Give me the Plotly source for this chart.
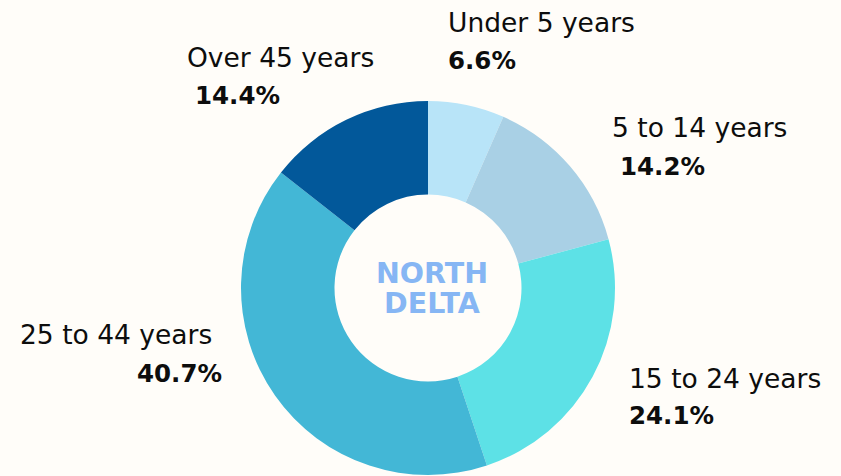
import plotly.graph_objects as go

categories = ["Under 5 years", "5 to 14 years", "15 to 24 years", "25 to 44 years", "Over 45 years"]
values = [6.6, 14.2, 24.1, 40.7, 14.4]
value_labels = ["6.6%", "14.2%", "24.1%", "40.7%", "14.4%"]
colors = ["#b8e4f8", "#a9d0e5", "#5de1e6", "#43b7d6", "#02589a"]
center_lines = ["NORTH", "DELTA"]

BG = "#fffdf9"
W, H = 841, 476
MT, MB = 101, 1
cx, cy, R = 428, 288, 187
PH = H - MT - MB

def px(x):
    return x / W

def py(y):
    return (H - MB - y) / PH

fig = go.Figure()
fig.add_trace(go.Pie(
    labels=categories,
    values=values,
    marker=dict(colors=colors, line=dict(width=0)),
    hole=0.5,
    sort=False,
    direction="clockwise",
    rotation=0,
    textinfo="none",
    hoverinfo="label+percent",
    showlegend=False,
    domain=dict(x=[(cx - R) / W, (cx + R) / W], y=[0, 1]),
))

FONT = "DejaVu Sans"
label_pos = [
    (448, 22, 448, 60, "left"),
    (612, 128, 620, 166, "left"),
    (629, 378, 629, 415, "left"),
    (20, 334, 222, 373, "right"),
    (187, 58, 195, 96, "left"),
]
annotations = []
for cat, val, (x1, y1, x2, y2, a2) in zip(categories, value_labels, label_pos):
    annotations.append(dict(x=px(x1), y=py(y1), xref="paper", yref="paper",
                            text=cat, showarrow=False, xanchor="left", yanchor="middle",
                            xshift=-2,
                            font=dict(family=FONT, size=26.5, color="#0d0d0d")))
    annotations.append(dict(x=px(x2), y=py(y2), xref="paper", yref="paper",
                            text="<b>" + val + "</b>", showarrow=False, xanchor=a2, yanchor="middle",
                            xshift=-2 if a2 == "left" else 2,
                            font=dict(family=FONT, size=24.5, color="#0d0d0d")))
for line, yy in zip(center_lines, [273, 303]):
    annotations.append(dict(x=px(cx + 4), y=py(yy), xref="paper", yref="paper",
                            text="<b>" + line + "</b>", showarrow=False,
                            xanchor="center", yanchor="middle",
                            font=dict(family=FONT, size=28.5, color="#86b6f4")))

fig.update_layout(
    width=W, height=H,
    margin=dict(l=0, r=0, t=MT, b=MB),
    paper_bgcolor=BG, plot_bgcolor=BG,
    annotations=annotations,
)
fig.write_html("out.html", config={"displayModeBar": False},
               post_script="document.body.style.margin='0';document.body.style.overflow='hidden';")
